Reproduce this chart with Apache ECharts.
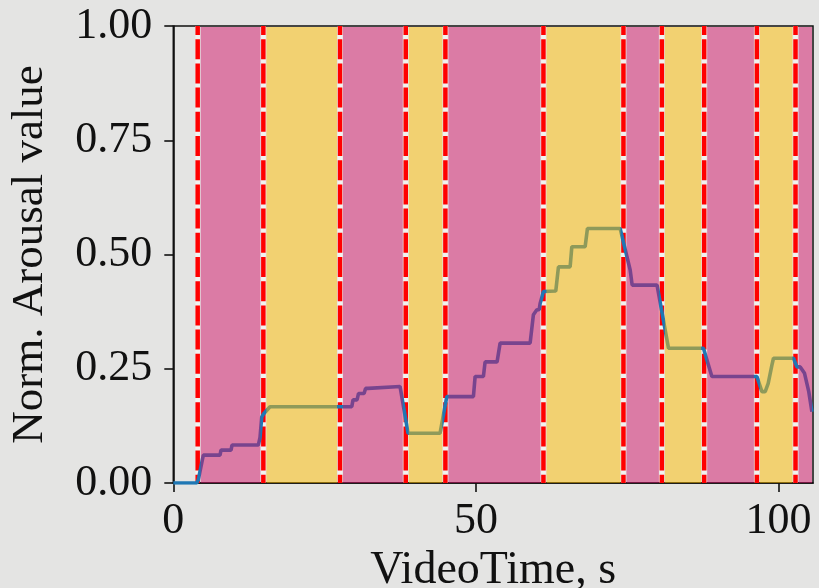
<!DOCTYPE html>
<html>
<head>
<meta charset="utf-8">
<script src="https://cdn.jsdelivr.net/npm/echarts@6/dist/echarts.min.js"></script>
<style>
  html, body { margin: 0; padding: 0; background: #e4e4e3; }
  #chart { width: 819px; height: 588px; }
</style>
</head>
<body>
<div id="chart"></div>
<script>
// Normalised arousal trace over the video (time in seconds)
const timeS = [0, 3.87, 4.13, 4.96, 7.72, 7.88, 9.54, 9.70, 14.05, 14.33, 14.61, 14.9, 15.16, 15.98,
  29.49, 29.70, 30.36, 30.61, 31.52, 31.77, 32.18, 32.35, 37.47, 38.79, 44.08, 45.19, 49.59,
  49.87, 51.24, 51.52, 53.50, 54.0, 58.96, 59.50, 60.07, 60.45, 60.61, 61.16, 63.2, 63.64,
  65.57, 65.85, 68.05, 68.43, 73.83, 74.12, 75.49, 75.82, 79.93, 81.82, 87.60, 88.99, 96.43,
  97.26, 97.80, 98.30, 98.91, 99.17, 102.48, 103.04, 103.59, 104.3, 105.0, 105.52];
const arousal = [0, 0, 0.007, 0.061, 0.061, 0.072, 0.072, 0.083, 0.083, 0.10, 0.144, 0.151, 0.153, 0.167,
  0.167, 0.182, 0.182, 0.196, 0.196, 0.207, 0.207, 0.211, 0.211, 0.109, 0.109, 0.189, 0.189,
  0.233, 0.233, 0.265, 0.265, 0.306, 0.306, 0.368, 0.379, 0.379, 0.393, 0.419, 0.42, 0.473,
  0.473, 0.517, 0.517, 0.557, 0.557, 0.554, 0.466, 0.433, 0.433, 0.295, 0.295, 0.233, 0.233,
  0.200, 0.200, 0.218, 0.258, 0.273, 0.273, 0.254, 0.254, 0.24, 0.20, 0.156];

// Segment boundaries (s) and the class of each segment between them
const boundaries = [4.03, 14.88, 27.55, 38.41, 44.96, 61.16, 74.38, 80.73, 87.72, 96.43, 102.81];
const segmentKind = ['high', 'low', 'high', 'low', 'high', 'low', 'high', 'low', 'high', 'low', 'high'];
const xMax = 105.7;

// Axis ticks
const xTicks = [0, 50, 100];
const yTicks = [0, 0.25, 0.5, 0.75, 1.0];

const kindColor = { high: 'rgba(210,18,104,0.5)', low: 'rgba(255,190,0,0.5)' };

const segments = segmentKind.map((k, i) => [boundaries[i], i + 1 < boundaries.length ? boundaries[i + 1] : xMax, k]);
const trace = timeS.map((t, i) => [t, arousal[i]]);

const font = 'Liberation Serif, Times New Roman, serif';
const chart = echarts.init(document.getElementById('chart'));

chart.setOption({
  backgroundColor: '#e4e4e3',
  animation: false,
  grid: { left: 173.3, right: 6, top: 26, bottom: 105, outerBoundsMode: 'none', containLabel: false,
    show: true, borderColor: '#111', borderWidth: 1.5, backgroundColor: 'transparent' },
  xAxis: {
    type: 'value', min: 0, max: xMax, interval: 50,
    name: 'VideoTime, s', nameLocation: 'middle', nameGap: 64,
    nameTextStyle: { fontFamily: font, fontSize: 46, color: '#111' },
    axisLine: { show: true, onZero: false, lineStyle: { color: '#111', width: 1.6 } },
    axisTick: { show: true, length: 9, inside: false, customValues: xTicks, lineStyle: { color: '#111', width: 1.6 } },
    axisLabel: { customValues: xTicks, margin: 16, fontFamily: font, fontSize: 44, color: '#111' },
    splitLine: { show: false }
  },
  yAxis: {
    type: 'value', min: 0, max: 1, interval: 0.25,
    name: 'Norm. Arousal value', nameLocation: 'middle', nameGap: 121, nameRotate: 90,
    nameTextStyle: { fontFamily: font, fontSize: 45, color: '#111' },
    axisLine: { show: true, lineStyle: { color: '#111', width: 1.6 } },
    axisTick: { show: true, length: 9, customValues: yTicks, lineStyle: { color: '#111', width: 1.6 } },
    axisLabel: { customValues: yTicks, margin: 21, fontFamily: font, fontSize: 44, color: '#111',
      formatter: v => v.toFixed(2) },
    splitLine: { show: false }
  },
  series: [
    {
      // segment boundary markers: dashed red over a pale stripe
      type: 'custom', z: 1, silent: true,
      data: boundaries.map(b => [b]),
      renderItem: (params, api) => {
        const top = api.coord([api.value(0), 1]);
        const bot = api.coord([api.value(0), 0]);
        return {
          type: 'group',
          children: [
            { type: 'line', shape: { x1: top[0], y1: top[1], x2: bot[0], y2: bot[1] },
              style: { stroke: '#f2f2f0', lineWidth: 4.5 } },
            { type: 'line', shape: { x1: top[0], y1: top[1], x2: bot[0], y2: bot[1] },
              style: { stroke: '#ff0000', lineWidth: 4.5, lineDash: [20, 4.2], lineDashOffset: 11 } }
          ]
        };
      }
    },
    {
      type: 'line', z: 2, data: trace, showSymbol: false, symbol: 'none',
      lineStyle: { color: '#1f77b4', width: 3.6 }, silent: true
    },
    {
      // translucent segment shading, laid over the trace
      type: 'custom', z: 3, silent: true,
      data: segments,
      renderItem: (params, api) => {
        const a = api.coord([api.value(0), 1]);
        const b = api.coord([api.value(1), 0]);
        const kind = segments[params.dataIndex][2];
        const inset = 3;
        const x0 = a[0] + inset;
        const x1 = api.value(1) >= xMax ? b[0] - 1 : b[0] - inset;
        return {
          type: 'rect',
          shape: { x: x0, y: a[1] + 1, width: x1 - x0, height: b[1] - a[1] - 1 },
          style: { fill: kindColor[kind] }
        };
      }
    }
  ]
});
</script>
</body>
</html>
